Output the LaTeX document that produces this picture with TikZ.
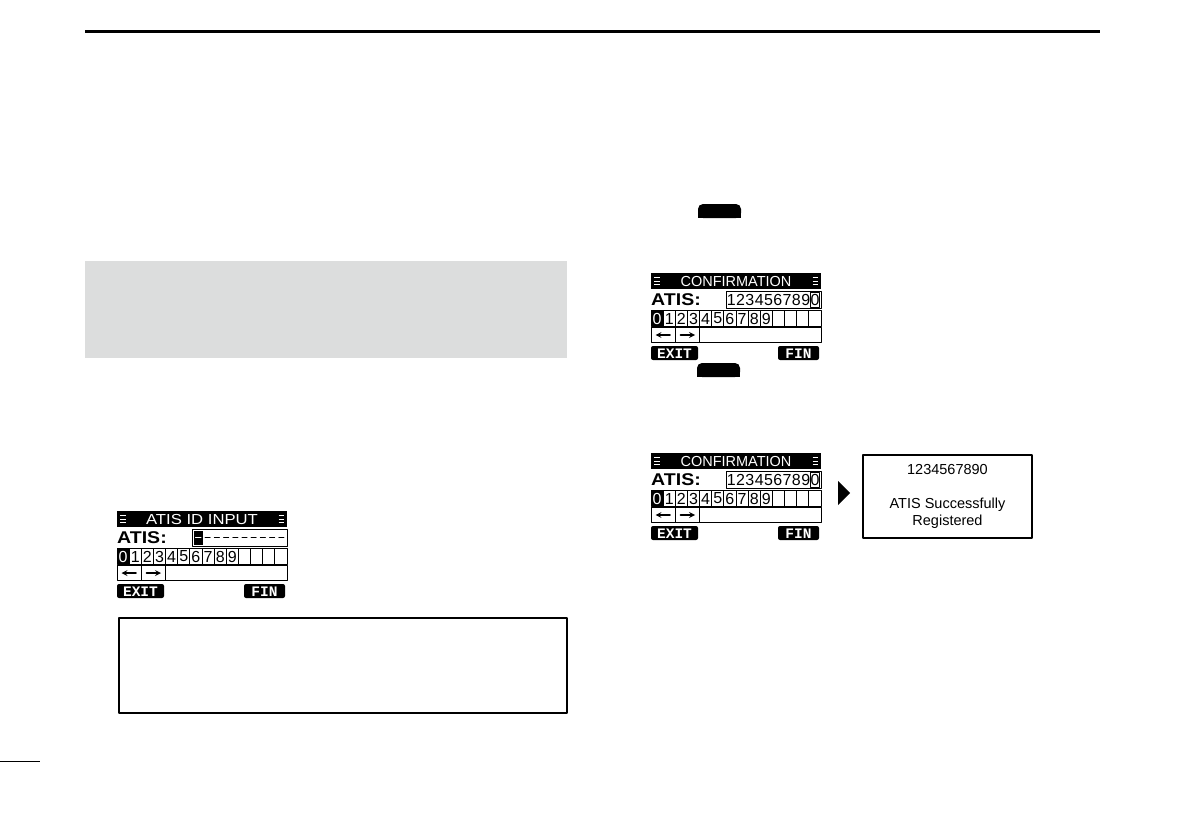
\documentclass[tikz,border=0pt]{standalone}
\usepackage{fontspec}
\setmainfont{Liberation Sans}
\newfontfamily\lcdmono{Liberation Mono}
\begin{document}
\begin{tikzpicture}[x=1pt, y=-1pt, line join=round, line cap=round, >=stealth,
	lcdline/.style={line width=0.8pt, line cap=butt},
	lcdtitle/.style={text=white, inner sep=0pt, font=\fontsize{14.5}{16}\selectfont},
	atislabel/.style={anchor=west, inner sep=0pt, font=\bfseries\fontsize{17}{19}\selectfont},
	lcddigit/.style={inner sep=0pt, font=\fontsize{16}{18}\selectfont},
	softkey/.style={text=white, inner sep=0pt, font=\lcdmono\bfseries\fontsize{14.5}{16}\selectfont},
	msgtext/.style={inner sep=0pt, font=\fontsize{14.5}{17}\selectfont}]
			\useasboundingbox (0,0) rectangle (1192,840);
			\definecolor{panelgray}{HTML}{DCDDDD}
			% one LCD screen: name, x, y, title, input field
			\def\lcdscreen#1#2#3#4#5{%
				\begin{scope}[shift={(#2,#3)}]
					\fill (0,0) rectangle (170,16);
					\node[lcdtitle] (#1-title) at (85,8.5) {#4};
					\foreach \k in {4.5,8,11.5} {
						\draw[white, lcdline] (3,\k) -- (8.5,\k);
						\draw[white, lcdline] (161.5,\k) -- (167,\k);
					}
					\node[atislabel] (#1-atis) at (0,26.5) {\scalebox{1.15}[1]{ATIS:}};
					\draw[lcdline] (75,18) rectangle (170,35.5);
					#5
					\draw[lcdline] (0,37) rectangle (170,53);
					\fill (0,37) rectangle ({170/14},53);
					\foreach \i in {1,...,13}
						\draw[lcdline] ({\i*170/14},37) -- ({\i*170/14},53);
					\node[lcddigit, text=white] (#1-d0) at ({170/28},45.5) {0};
					\foreach \d in {1,...,9}
						\node[lcddigit] (#1-d\d) at ({(2*\d+1)*170/28},45.5) {\d};
					\draw[lcdline] (0,54) rectangle (170,69.5);
					\draw[lcdline] ({2*170/14},54) -- ({2*170/14},69.5) ({4*170/14},54) -- ({4*170/14},69.5);
					\draw[->, line width=1.6pt] (19,62) -- (4.5,62);
					\draw[->, line width=1.6pt] (29.5,62) -- (44,62);
					\fill[rounded corners=2pt] (0,73) rectangle (47,87);
					\node[softkey] (#1-exit) at (23.5,80.5) {EXIT};
					\fill[rounded corners=2pt] (127,73) rectangle (168,87);
					\node[softkey] (#1-fin) at (147.5,80.5) {FIN};
				\end{scope}}
			% input fields
			\def\dashfield{%
				\fill (77,19.5) rectangle (85.5,34);
				\draw[white, line width=1pt] (78.5,26.5) -- (84,26.5);
				\foreach \n in {1,...,9}
					\draw[line width=1pt] ({79+9.2*\n},26.5) -- ({84+9.2*\n},26.5);}
			\def\digitfield#1{%
				\foreach \d [count=\n] in {1,2,3,4,5,6,7,8,9,0}
					\node[lcddigit] (#1-in\n) at ({71+9.3*\n},27) {\d};
				\draw[line width=0.9pt] (159.5,19.5) rectangle (168.5,34);}
			% page rules and panels
			\draw[line width=3pt, line cap=butt] (85,32) -- (1100,32);
			\draw[line width=1pt, line cap=butt] (0,761) -- (40,761);
			\fill[panelgray] (85,261) rectangle (567,358);
			\draw[line width=1.5pt, line cap=butt] (119,618) rectangle (567,713);
			% keys
			\fill[rounded corners=5pt] (698,204) rectangle (741,218);
			\fill (698,211) rectangle (741,218);
			\fill[rounded corners=5pt] (697,363) rectangle (740,377);
			\fill (697,370) rectangle (740,377);
			% screens
			\lcdscreen{a}{117}{511}{\scalebox{1.15}[1]{ATIS ID INPUT}}{\dashfield}
			\lcdscreen{b}{651}{273}{CONFIRMATION}{\digitfield{b}}
			\lcdscreen{c}{651}{453}{CONFIRMATION}{\digitfield{c}}
			\fill (838,481) -- (850,493) -- (838,505) -- cycle;
			\draw[line width=1.3pt] (863,455) rectangle (1032,538);
			\node[msgtext] (m-id) at (947.5,470) {1234567890};
			\node[msgtext] (m-ok) at (947.5,505) {ATIS Successfully};
			\node[msgtext] (m-reg) at (947.5,522) {Registered};
		\end{tikzpicture}
\end{document}
